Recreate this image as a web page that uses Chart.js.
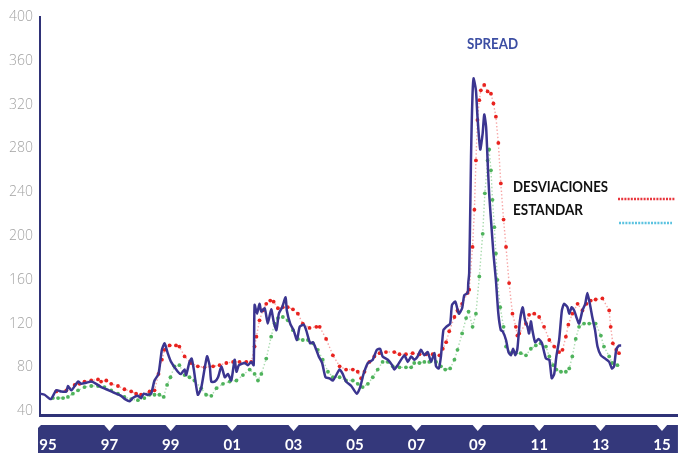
<!DOCTYPE html>
<html>
<head>
<meta charset="utf-8">
<script src="https://cdn.jsdelivr.net/npm/chart.js@4.4.1/dist/chart.umd.min.js"></script>
<style>
  html, body { margin: 0; padding: 0; background: #fff; }
  #wrap { position: relative; width: 692px; height: 453px; }
</style>
</head>
<body>
<div id="wrap"><canvas id="spread-chart" width="692" height="453"></canvas></div>
<script>
// values (x = decimal year)
const spreadYears = [1994.74,1994.89,1995.09,1995.27,1995.43,1995.60,1995.65,1995.76,1995.98,1996.08,
  1996.25,1996.41,1996.57,1996.73,1996.90,1997.06,1997.22,1997.38,1997.51,1997.66,
  1997.76,1997.93,1998.03,1998.12,1998.25,1998.36,1998.47,1998.60,1998.71,1998.80,
  1998.90,1999.01,1999.23,1999.33,1999.45,1999.50,1999.61,1999.68,1999.75,1999.88,
  1999.99,2000.18,2000.27,2000.32,2000.43,2000.54,2000.65,2000.76,2000.86,2000.97,
  2001.08,2001.14,2001.22,2001.41,2001.51,2001.62,2001.70,2001.73,2001.81,2001.89,
  2001.95,2002.06,2002.16,2002.27,2002.35,2002.44,2002.52,2002.63,2002.74,2002.78,
  2002.89,2003.00,2003.11,2003.20,2003.33,2003.41,2003.54,2003.63,2003.74,2003.82,
  2003.93,2004.04,2004.17,2004.28,2004.39,2004.50,2004.60,2004.71,2004.88,2005.06,
  2005.17,2005.28,2005.42,2005.58,2005.71,2005.82,2005.90,2006.07,2006.21,2006.28,
  2006.39,2006.61,2006.72,2006.83,2006.93,2007.04,2007.15,2007.26,2007.37,2007.48,
  2007.59,2007.64,2007.73,2007.80,2007.88,2007.97,2008.10,2008.16,2008.27,2008.38,
  2008.49,2008.56,2008.67,2008.69,2008.72,2008.76,2008.78,2008.80,2008.83,2008.86,
  2008.94,2008.99,2009.08,2009.16,2009.21,2009.27,2009.32,2009.37,2009.43,2009.51,
  2009.59,2009.67,2009.75,2009.81,2009.92,2010.00,2010.08,2010.15,2010.22,2010.29,
  2010.37,2010.46,2010.54,2010.62,2010.67,2010.73,2010.78,2010.87,2010.98,2011.09,
  2011.22,2011.33,2011.41,2011.49,2011.56,2011.65,2011.74,2011.81,2011.92,2011.98,
  2012.06,2012.14,2012.21,2012.30,2012.41,2012.50,2012.57,2012.65,2012.73,2012.82,
  2012.90,2013.01,2013.15,2013.28,2013.37,2013.44,2013.51,2013.60,2013.67];
const spreadValues = [56,55,51,59,58,58,63,59,67,65,
  66,67,65,62,60,58,56,54,51,49,
  52,54,52,56,55,56,68,74,96,102,
  93,85,76,74,78,73,85,88,78,55,
  61,90,81,67,67,71,81,71,74,68,
  87,76,82,84,82,85,82,137,129,138,
  131,134,120,133,122,114,129,135,144,132,
  120,114,105,117,119,114,102,103,96,90,
  84,71,70,68,73,78,74,67,63,56,
  62,74,84,87,96,97,90,87,82,78,
  82,91,85,90,87,90,96,91,94,85,
  93,81,79,90,114,117,120,137,140,129,
  134,146,148,157,166,233,272,300,330,344,
  333,309,279,294,311,300,269,239,215,184,
  160,129,114,113,105,94,91,97,91,97,
  122,135,123,117,111,122,114,103,106,102,
  88,87,70,74,90,105,132,138,135,129,
  135,132,126,120,132,138,148,138,126,114,
  99,91,88,85,79,81,96,100,100];

// upper band (red dots)
const upperYears = [1995.27,1995.60,1995.87,1996.03,1996.19,1996.41,1996.63,1996.73,1996.90,1997.06,
  1997.28,1997.49,1997.71,1997.87,1998.03,1998.31,1998.47,1998.60,1998.71,1998.80,
  1998.96,1999.17,1999.28,1999.45,1999.66,1999.88,2000.10,2000.38,2000.59,2000.81,
  2001.03,2001.24,2001.46,2001.62,2001.73,2001.79,2001.89,2002.00,2002.11,2002.24,
  2002.35,2002.49,2002.65,2002.81,2002.98,2003.14,2003.30,2003.52,2003.74,2003.85,
  2004.06,2004.28,2004.50,2004.71,2004.93,2005.09,2005.20,2005.31,2005.47,2005.63,
  2005.80,2006.01,2006.28,2006.45,2006.66,2006.88,2007.10,2007.32,2007.53,2007.75,
  2007.86,2007.97,2008.07,2008.24,2008.34,2008.49,2008.67,2008.72,2008.83,2008.89,
  2008.94,2008.99,2009.05,2009.10,2009.21,2009.32,2009.43,2009.51,2009.59,2009.67,
  2009.75,2009.84,2009.92,2010.02,2010.13,2010.24,2010.29,2010.35,2010.57,2010.67,
  2010.84,2011.00,2011.16,2011.33,2011.49,2011.65,2011.76,2011.87,2011.95,2012.08,
  2012.25,2012.41,2012.54,2012.68,2012.84,2013.06,2013.28,2013.33,2013.40,2013.51,
  2013.60];
const upperValues = [58,59,64,65,67,68,69,67,68,65,
  63,60,58,56,55,58,59,74,87,96,
  100,100,99,90,84,81,80,81,82,84,
  85,85,85,85,99,108,123,132,138,141,
  140,134,135,135,133,129,120,116,117,117,
  106,91,81,78,78,76,70,76,85,90,
  93,94,94,92,92,93,92,92,92,91,
  97,103,113,126,132,138,148,151,190,224,
  269,306,324,333,338,332,330,321,309,285,
  248,215,190,157,129,117,109,111,120,128,
  129,126,117,105,99,94,96,108,119,129,
  138,132,138,141,142,143,132,117,102,96,
  93];

// lower band (green dots)
const lowerYears = [1995.16,1995.33,1995.49,1995.65,1995.81,1995.98,1996.19,1996.41,1996.63,1996.84,
  1997.06,1997.28,1997.49,1997.71,1997.93,1998.14,1998.31,1998.47,1998.63,1998.77,
  1998.88,1998.99,1999.12,1999.28,1999.45,1999.61,1999.77,1999.99,2000.15,2000.32,
  2000.49,2000.70,2000.92,2001.14,2001.35,2001.57,2001.73,2001.84,2001.95,2002.11,
  2002.27,2002.38,2002.49,2002.65,2002.81,2002.98,2003.14,2003.30,2003.47,2003.63,
  2003.79,2003.95,2004.12,2004.28,2004.50,2004.71,2004.93,2005.09,2005.25,2005.42,
  2005.58,2005.74,2005.90,2006.07,2006.23,2006.45,2006.66,2006.83,2006.93,2007.10,
  2007.26,2007.42,2007.64,2007.80,2007.94,2008.10,2008.24,2008.34,2008.49,2008.62,
  2008.70,2008.83,2008.94,2009.05,2009.16,2009.23,2009.32,2009.37,2009.43,2009.48,
  2009.54,2009.59,2009.64,2009.73,2009.84,2009.92,2010.08,2010.24,2010.40,2010.57,
  2010.73,2010.89,2011.05,2011.22,2011.33,2011.46,2011.56,2011.71,2011.87,2011.98,
  2012.08,2012.19,2012.30,2012.46,2012.63,2012.84,2013.01,2013.11,2013.28,2013.38,
  2013.55];
const lowerValues = [52,52,52,53,56,59,62,63,63,62,
  59,56,53,51,50,52,55,55,55,53,
  64,71,81,82,73,71,68,61,55,54,
  61,65,67,68,73,78,74,68,74,88,
  108,120,125,126,123,114,106,105,105,102,
  96,87,76,71,71,68,68,65,62,65,
  71,78,85,85,81,80,80,80,84,84,
  85,85,85,81,78,79,87,96,111,125,
  131,117,129,163,202,239,269,279,260,233,
  208,184,160,135,117,99,93,93,93,91,
  97,100,102,99,90,82,78,76,76,79,
  90,106,117,120,120,120,109,99,90,84,
  82];

// axis ticks
const yTicks = [40, 80, 120, 160, 200, 240, 280, 320, 360, 400];
const xTickYears = [1995, 1997, 1999, 2001, 2003, 2005, 2007, 2009, 2011, 2013, 2015];
const xTickLabels = ['95', '97', '99', '01', '03', '05', '07', '09', '11', '13', '15'];

const toPoints = (xs, ys) => xs.map((x, i) => ({ x: x, y: ys[i] }));

// dark band under the x axis, with the little notches at each tick
const axisBand = {
  id: 'axisBand',
  beforeDraw(chart) {
    const { ctx, chartArea } = chart;
    const xScale = chart.scales.x;
    const top = chartArea.bottom + 10;
    const left = chartArea.left - 2;
    const right = chartArea.right;
    ctx.save();
    ctx.fillStyle = '#34387b';
    ctx.beginPath();
    ctx.moveTo(left + 3, top);
    ctx.lineTo(right, top);
    ctx.lineTo(right, chart.height);
    ctx.lineTo(left, chart.height);
    ctx.lineTo(left, top + 3);
    ctx.closePath();
    ctx.fill();
    ctx.fillStyle = '#ffffff';
    xTickYears.forEach((yr, i) => {
      if (i === 0) return;
      const px = xScale.getPixelForValue(yr);
      ctx.beginPath();
      ctx.moveTo(px - 6, top - 1);
      ctx.lineTo(px + 6, top - 1);
      ctx.lineTo(px, top + 6);
      ctx.closePath();
      ctx.fill();
    });
    ctx.restore();
  }
};

// "SPREAD" label and the standard deviation legend
const notes = {
  id: 'notes',
  afterDraw(chart) {
    const ctx = chart.ctx;
    ctx.save();
    ctx.textBaseline = 'middle';
    ctx.textAlign = 'left';
    ctx.fillStyle = '#3c4ea3';
    ctx.font = 'bold 15px Lato';
    ctx.fillText('SPREAD', 467, 44, 51);
    ctx.fillStyle = '#111111';
    ctx.font = 'bold 16px Lato';
    ctx.fillText('DESVIACIONES', 513, 187, 95);
    ctx.fillText('ESTANDAR', 513, 210, 70);

    ctx.lineWidth = 2.5;
    ctx.setLineDash([2, 1.2]);
    ctx.strokeStyle = '#e8353c';
    ctx.beginPath();
    ctx.moveTo(618, 199);
    ctx.lineTo(675, 199);
    ctx.stroke();
    ctx.strokeStyle = '#5cc3e0';
    ctx.beginPath();
    ctx.moveTo(619, 223);
    ctx.lineTo(672, 223);
    ctx.stroke();
    ctx.restore();
  }
};

const chartCanvas = document.querySelector('#spread-chart');

const spreadChart = new Chart(chartCanvas, {
  type: 'line',
  data: {
    datasets: [
      {
        label: 'SPREAD',
        data: toPoints(spreadYears, spreadValues),
        borderColor: '#3b3590',
        borderWidth: 2.5,
        pointRadius: 0,
        tension: 0.2,
        order: 0
      },
      {
        label: 'Desviación superior',
        data: toPoints(upperYears, upperValues),
        borderColor: 'rgba(238, 90, 90, 0.55)',
        borderWidth: 1.4,
        borderDash: [1.4, 2.2],
        pointRadius: 1.9,
        pointBackgroundColor: '#e8231f',
        pointBorderWidth: 0,
        tension: 0,
        order: 1
      },
      {
        label: 'Desviación inferior',
        data: toPoints(lowerYears, lowerValues),
        borderColor: 'rgba(100, 190, 110, 0.55)',
        borderWidth: 1.4,
        borderDash: [1.4, 2.2],
        pointRadius: 1.9,
        pointBackgroundColor: '#4fb35c',
        pointBorderWidth: 0,
        tension: 0,
        order: 2
      }
    ]
  },
  options: {
    responsive: false,
    animation: false,
    layout: {
      padding: { top: 17, right: 13, bottom: 0, left: 0 }
    },
    plugins: {
      legend: { display: false },
      tooltip: { enabled: false }
    },
    scales: {
      x: {
        type: 'linear',
        min: 1994.74,
        max: 2015.52,
        afterBuildTicks: (scale) => {
          scale.ticks = xTickYears.map(v => ({ value: v }));
        },
        afterFit: (scale) => { scale.height = 38; },
        grid: { display: false, drawTicks: false },
        border: { display: true, color: '#2f3277', width: 3 },
        ticks: {
          autoSkip: false,
          maxRotation: 0,
          padding: 21,
          color: '#ffffff',
          font: { family: 'Lato', size: 15, weight: 'bold' },
          callback: (value, index) => xTickLabels[index]
        }
      },
      y: {
        min: 36.5,
        max: 400,
        afterBuildTicks: (scale) => {
          scale.ticks = yTicks.map(v => ({ value: v }));
        },
        afterFit: (scale) => { scale.width = 40; },
        grid: { display: false, drawTicks: false },
        border: { display: true, color: '#2f3277', width: 2 },
        ticks: {
          padding: 7,
          color: '#a3a3a3',
          font: { family: 'Open Sans', size: 14, weight: '300' }
        }
      }
    }
  },
  plugins: [axisBand, notes]
});
</script>
</body>
</html>
